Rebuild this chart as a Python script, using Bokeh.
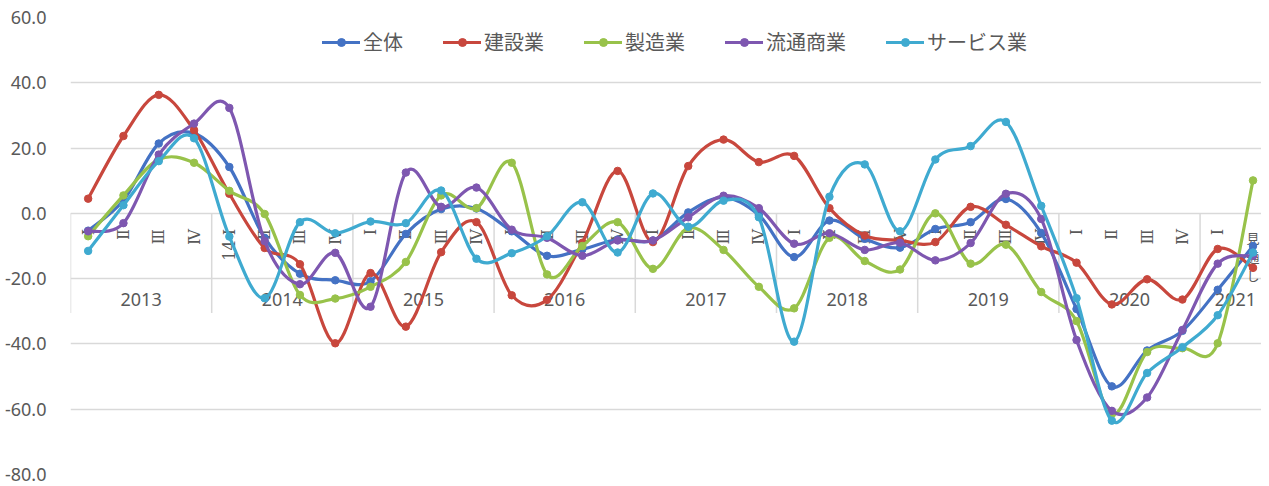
import math
from bokeh.plotting import figure
from bokeh.models import Range1d, FixedTicker, NumeralTickFormatter, Legend, LegendItem
from bokeh.core.properties import value
from bokeh.embed import file_html
from bokeh.resources import INLINE

# ---- data ----
years = ["2013", "2014", "2015", "2016", "2017", "2018", "2019", "2020", "2021"]
quarters_per_year = [4, 4, 4, 4, 4, 4, 4, 4, 2]
quarter_labels = ["Ⅰ", "Ⅱ", "Ⅲ", "Ⅳ",
                  "14 Ⅰ", "Ⅱ", "Ⅲ", "Ⅳ",
                  "Ⅰ", "Ⅱ", "Ⅲ", "Ⅳ",
                  "Ⅰ", "Ⅱ", "Ⅲ", "Ⅳ",
                  "Ⅰ", "Ⅱ", "Ⅲ", "Ⅳ",
                  "Ⅰ", "Ⅱ", "Ⅲ", "Ⅳ",
                  "Ⅰ", "Ⅱ", "Ⅲ", "Ⅳ",
                  "Ⅰ", "Ⅱ", "Ⅲ", "Ⅳ",
                  "Ⅰ", "見通し"]
series_names = ["全体", "建設業", "製造業", "流通商業", "サービス業"]

zentai = [-5.3, 4.0, 21.4, 24.5, 14.2, -7.5, -18.5, -20.5, -20.8, -6.3, 1.3, 1.5,
          -5.5, -13.0, -11.0, -8.0, -8.3, 0.3, 4.9, -0.5, -13.4, -2.2, -7.8, -10.5,
          -4.8, -2.7, 4.4, -6.0, -29.3, -53.0, -42.0, -36.0, -23.4, -10.0]
kensetsu = [4.5, 23.7, 36.3, 25.5, 6.0, -10.6, -15.6, -39.8, -18.3, -34.7, -11.9, -2.7,
            -25.1, -26.5, -9.0, 13.0, -8.8, 14.5, 22.6, 15.7, 17.6, 1.6, -6.8, -8.3,
            -8.8, 2.0, -3.5, -10.1, -15.1, -27.9, -20.2, -26.4, -10.9, -16.7]
seizou = [-7.0, 5.5, 16.5, 15.5, 6.9, -0.2, -25.0, -26.1, -22.5, -14.9, 5.5, 1.6,
          15.5, -18.7, -10.0, -2.7, -17.0, -4.5, -11.2, -22.5, -29.1, -7.5, -14.6, -17.2,
          0.0, -15.4, -9.6, -24.1, -33.0, -61.5, -42.5, -41.3, -39.8, 10.1]
ryutsu = [-5.5, -3.0, 18.0, 27.5, 32.3, -8.5, -21.7, -12.1, -28.6, 12.5, 2.0, 7.9,
          -5.0, -7.5, -13.0, -8.3, -8.3, -1.2, 5.4, 1.6, -9.3, -6.1, -11.2, -9.0,
          -14.4, -9.1, 6.0, -1.7, -38.8, -60.5, -56.4, -35.7, -15.4, -13.0]
service = [-11.5, 2.5, 16.0, 23.0, -7.1, -26.0, -2.7, -6.1, -2.5, -3.0, 7.0, -13.9,
           -12.2, -7.0, 3.4, -12.0, 6.1, -4.1, 3.9, -1.2, -39.3, 5.1, 15.0, -5.5,
           16.5, 20.6, 28.0, 2.3, -26.0, -63.5, -48.9, -41.0, -31.2, -12.0]
y_ticks = [-80, -60, -40, -20, 0, 20, 40, 60]

series = [zentai, kensetsu, seizou, ryutsu, service]
colors = ["#4472C4", "#C8473D", "#98C24A", "#7E57B0", "#3FAAD0"]

TEXT = "#595959"
GRID = "#d9d9d9"

n = len(quarter_labels)
xs = list(range(n))

p = figure(width=1261, height=486, output_backend="svg", toolbar_location=None,
           x_range=Range1d(-0.5, 33.24), y_range=Range1d(-80, 60),
           x_axis_location=None, min_border_left=70, min_border_right=0,
           min_border_top=17, min_border_bottom=12)
p.outline_line_color = None
p.background_fill_color = "white"
p.border_fill_color = "white"
p.xgrid.visible = False
p.ygrid.grid_line_color = GRID
p.ygrid.grid_line_width = 1.5
p.ygrid.ticker = FixedTicker(ticks=y_ticks)

ax = p.yaxis[0]
ax.ticker = FixedTicker(ticks=y_ticks)
ax.formatter = NumeralTickFormatter(format="0.0")
ax.axis_line_color = None
ax.major_tick_line_color = None
ax.minor_tick_line_color = None
ax.major_tick_out = 0
ax.major_tick_in = 0
ax.minor_tick_out = 0
ax.major_label_text_color = TEXT
ax.major_label_text_font = "Noto Sans"
ax.major_label_text_font_size = "18px"
ax.major_label_standoff = 24

# category table drawn inside plot at y = 0
starts = [sum(quarters_per_year[:k]) for k in range(len(years))]
div_x = [s - 0.5 for s in starts]
p.segment(x0=div_x, y0=[0] * len(div_x), x1=div_x, y1=[-30.5] * len(div_x),
          line_color=GRID, line_width=1.5)

rot_idx = [i for i in range(n) if i < n - 1]
p.text(x=rot_idx, y=[-4.8] * len(rot_idx), text=[quarter_labels[i] for i in rot_idx],
       angle=math.pi / 2, text_align="right", text_baseline="middle",
       text_font=value("DejaVu Serif"), text_font_size="16px", text_color=TEXT)
p.text(x=[n - 1], y=[-4.6], text=["\n".join(quarter_labels[n - 1])],
       text_align="center", text_baseline="top", line_height=1.0,
       text_font=value("Noto Sans CJK JP"), text_font_size="13px", text_color=TEXT)

year_x = [s + (c - 1) / 2.0 for s, c in zip(starts, quarters_per_year)]
p.text(x=year_x, y=[-26.3] * len(years), text=years, text_align="center",
       text_baseline="middle", text_font=value("Noto Sans"), text_font_size="18px",
       text_color=TEXT)


def smooth_segments(xv, yv):
    m = len(xv)
    out = dict(x0=[], y0=[], x1=[], y1=[], cx0=[], cy0=[], cx1=[], cy1=[])
    for i in range(m - 1):
        a = i - 1 if i > 0 else i
        b = i + 2 if i + 2 < m else i + 1
        out["x0"].append(xv[i]); out["y0"].append(yv[i])
        out["x1"].append(xv[i + 1]); out["y1"].append(yv[i + 1])
        out["cx0"].append(xv[i] + (xv[i + 1] - xv[a]) / 6.0)
        out["cy0"].append(yv[i] + (yv[i + 1] - yv[a]) / 6.0)
        out["cx1"].append(xv[i + 1] - (xv[b] - xv[i]) / 6.0)
        out["cy1"].append(yv[i + 1] - (yv[b] - yv[i]) / 6.0)
    return out


items = []
for name, ys, c in zip(series_names, series, colors):
    seg = smooth_segments(xs, ys)
    bz = p.bezier(line_color=c, line_width=3.2, line_cap="round", **seg)
    sc = p.scatter(x=xs, y=ys, size=7.5, marker="circle", fill_color=c, line_color=c)
    items.append(LegendItem(label=name, renderers=[bz, sc]))

legend = Legend(items=items, orientation="horizontal", location=(252, 418),
                background_fill_alpha=0, border_line_color=None,
                label_text_font="Noto Sans CJK JP", label_text_font_size="20px",
                label_text_color=TEXT, glyph_width=38, glyph_height=20,
                label_height=20, label_standoff=3, spacing=40, padding=0, margin=0)
p.add_layout(legend)

open("out.html", "w").write(file_html(p, INLINE))
